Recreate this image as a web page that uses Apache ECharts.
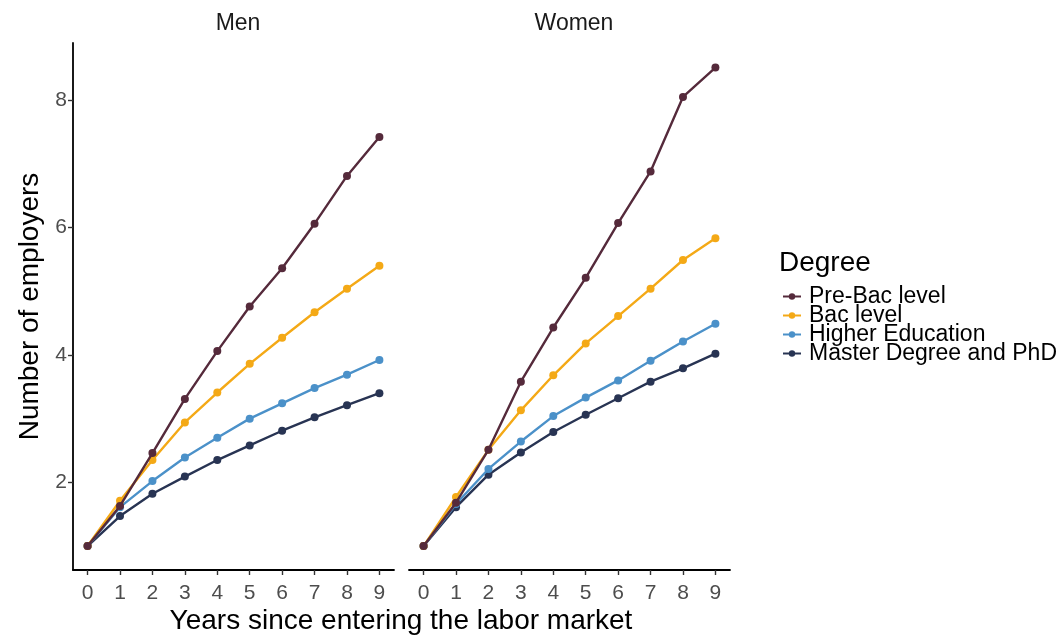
<!DOCTYPE html>
<html>
<head>
<meta charset="utf-8">
<script src="https://cdn.jsdelivr.net/npm/echarts@6/dist/echarts.min.js"></script>
<style>
  html, body { margin: 0; padding: 0; background: #fff; }
  #chart { width: 1062px; height: 640px; }
</style>
</head>
<body>
<div id="chart"></div>
<script>
// === Données ===
const years = [0, 1, 2, 3, 4, 5, 6, 7, 8, 9];
const degrees = ["Pre-Bac level", "Bac level", "Higher Education", "Master Degree and PhD"];
const panels = ["Men", "Women"];

const menPreBac  = [1, 1.63, 2.46, 3.31, 4.06, 4.76, 5.36, 6.06, 6.81, 7.42];
const menBac     = [1, 1.71, 2.35, 2.94, 3.41, 3.86, 4.27, 4.67, 5.04, 5.40];
const menHigher  = [1, 1.61, 2.02, 2.39, 2.70, 3.00, 3.24, 3.48, 3.69, 3.92];
const menMaster  = [1, 1.47, 1.82, 2.09, 2.35, 2.58, 2.81, 3.02, 3.21, 3.40];

const womenPreBac = [1, 1.68, 2.51, 3.58, 4.43, 5.21, 6.07, 6.88, 8.05, 8.51];
const womenBac    = [1, 1.77, 2.51, 3.13, 3.68, 4.18, 4.61, 5.04, 5.49, 5.83];
const womenHigher = [1, 1.66, 2.21, 2.64, 3.04, 3.33, 3.60, 3.91, 4.21, 4.49];
const womenMaster = [1, 1.61, 2.12, 2.47, 2.79, 3.06, 3.32, 3.58, 3.79, 4.02];

const yTicks = [2, 4, 6, 8];

const colors = ["#552a3b", "#f4a916", "#4b91c9", "#283453"];
const font = "Liberation Sans, Arial, sans-serif";

const chart = echarts.init(document.getElementById("chart"));

// axe x commun aux deux facettes
function makeXAxis(gridIndex) {
    return {
        type: "value",
        gridIndex: gridIndex,
        min: -0.45,
        max: 9.45,
        splitLine: { show: false },
        axisLine: { show: true, onZero: false, lineStyle: { color: "#000", width: 1.8 } },
        axisTick: { show: true, customValues: years, length: 5, lineStyle: { color: "#333", width: 1.4 } },
        axisLabel: { customValues: years, color: "#4d4d4d", fontSize: 21, fontFamily: font, margin: 13 }
    };
}

function makeYAxis(gridIndex, visible) {
    return {
        type: "value",
        gridIndex: gridIndex,
        min: 0.624,
        max: 8.896,
        splitLine: { show: false },
        axisLine: { show: visible, onZero: false, lineStyle: { color: "#000", width: 1.8 } },
        axisTick: { show: visible, customValues: yTicks, length: 5, lineStyle: { color: "#333", width: 1.4 } },
        axisLabel: { show: visible, customValues: yTicks, color: "#4d4d4d", fontSize: 21, fontFamily: font, margin: 6 },
        name: visible ? "Number of employers" : "",
        nameLocation: "middle",
        nameRotate: 90,
        nameGap: 29,
        nameTextStyle: { color: "#000", fontSize: 28, fontFamily: font }
    };
}

const seriesData = [
    [menPreBac, menBac, menHigher, menMaster],
    [womenPreBac, womenBac, womenHigher, womenMaster]
];

const series = [];
seriesData.forEach((panel, p) => {
    panel.forEach((vals, d) => {
        series.push({
            name: degrees[d],
            type: "line",
            xAxisIndex: p,
            yAxisIndex: p,
            symbol: "circle",
            symbolSize: 8,
            lineStyle: { width: 2.4, color: colors[d] },
            itemStyle: { color: colors[d] },
            emphasis: { disabled: true },
            z: 2 + (3 - d),
            data: years.map((x, i) => [x, vals[i]])
        });
    });
});

chart.setOption({
    backgroundColor: "#fff",
    animation: false,
    title: [
        { text: panels[0], left: 233, top: 7, textAlign: "center", textStyle: { color: "#1a1a1a", fontSize: 23, fontWeight: "normal", fontFamily: font } },
        { text: panels[1], left: 569, top: 7, textAlign: "center", textStyle: { color: "#1a1a1a", fontSize: 23, fontWeight: "normal", fontFamily: font } },
        { text: "Degree", left: 774, top: 244, textStyle: { color: "#000", fontSize: 28, fontWeight: "normal", fontFamily: font } }
    ],
    legend: {
        data: degrees,
        orient: "vertical",
        left: 777,
        top: 280,
        itemWidth: 18,
        itemHeight: 8,
        itemGap: -4,
        textStyle: { color: "#000", fontSize: 23, lineHeight: 19, fontFamily: font, padding: [0, 0, 0, 3] },
        selectedMode: false
    },
    grid: [
        { left: 73, right: 668, top: 43, bottom: 70 },
        { left: 409, right: 332, top: 43, bottom: 70 }
    ],
    xAxis: [makeXAxis(0), makeXAxis(1)],
    yAxis: [makeYAxis(0, true), makeYAxis(1, false)],
    graphic: [
        {
            type: "text",
            x: 401,
            y: 621,
            style: {
                text: "Years since entering the labor market",
                fill: "#000",
                font: "28px " + font,
                textAlign: "center",
                textVerticalAlign: "middle"
            }
        }
    ],
    series: series
});

window.addEventListener("resize", () => chart.resize());
</script>
</body>
</html>
